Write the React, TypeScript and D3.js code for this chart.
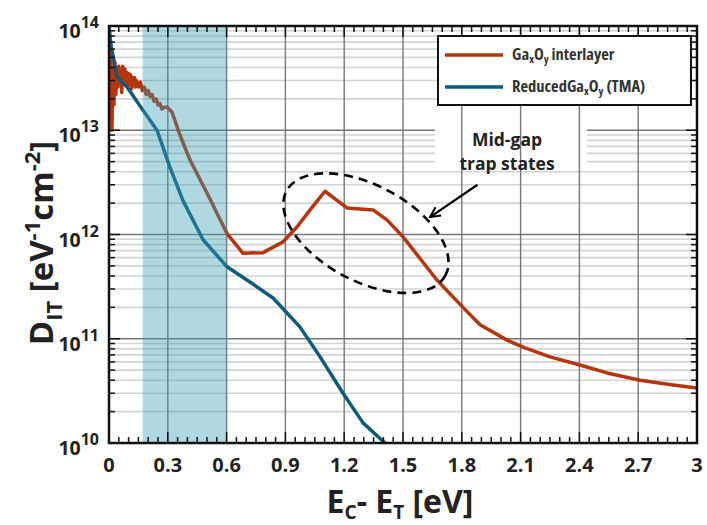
import React from 'react';
import * as d3 from 'd3';

// GaxOy interlayer
const redE = [0, 0.005, 0.01, 0.015, 0.02, 0.025, 0.03, 0.035, 0.04, 0.045, 0.05, 0.055, 0.06, 0.065, 0.07, 0.075, 0.08, 0.085, 0.09, 0.095, 0.1, 0.105, 0.11, 0.115, 0.12, 0.125, 0.13, 0.135, 0.14, 0.15, 0.16, 0.17, 0.18, 0.19, 0.2, 0.21, 0.22, 0.23, 0.24, 0.25, 0.26, 0.27, 0.28, 0.296, 0.321, 0.362, 0.413, 0.5, 0.551, 0.602, 0.684, 0.786, 0.888, 0.959, 1.03, 1.102, 1.214, 1.347, 1.418, 1.5, 1.673, 1.806, 1.893, 2.031, 2.112, 2.25, 2.403, 2.541, 2.709, 2.878, 3.0];
const redD = [7.3e13, 3.4e13, 5.3e13, 1.0e13, 3.8e13, 1.75e13, 4.5e13, 2.2e13, 4.0e13, 2.6e13, 4.1e13, 2.9e13, 3.8e13, 2.3e13, 4.1e13, 2.8e13, 3.9e13, 3.0e13, 3.6e13, 2.6e13, 3.5e13, 2.9e13, 3.4e13, 2.5e13, 3.2e13, 2.7e13, 3.2e13, 2.6e13, 3.0e13, 2.6e13, 2.9e13, 2.4e13, 2.6e13, 2.2e13, 2.4e13, 2.1e13, 2.2e13, 1.9e13, 2.0e13, 1.75e13, 1.8e13, 1.6e13, 1.65e13, 1.67e13, 1.5e13, 9e12, 5.2e12, 2.5e12, 1.6e12, 1.02e12, 6.6e11, 6.7e11, 8.5e11, 1.18e12, 1.76e12, 2.6e12, 1.8e12, 1.72e12, 1.38e12, 9.5e11, 3.66e11, 2.0e11, 1.36e11, 9.7e10, 8.3e10, 6.7e10, 5.6e10, 4.7e10, 4.0e10, 3.6e10, 3.37e10];

// Reduced GaxOy (TMA)
const blueE = [0, 0.01, 0.031, 0.041, 0.092, 0.173, 0.245, 0.311, 0.378, 0.48, 0.602, 0.704, 0.837, 0.974, 1.077, 1.194, 1.296, 1.408];
const blueD = [1e14, 6.6e13, 4.05e13, 3.25e13, 2.6e13, 1.56e13, 1e13, 4.4e12, 2.1e12, 8.9e11, 4.9e11, 3.66e11, 2.46e11, 1.3e11, 6.7e10, 3.0e10, 1.56e10, 1e10];

const xTicks = [0, 0.3, 0.6, 0.9, 1.2, 1.5, 1.8, 2.1, 2.4, 2.7, 3];
const xTickLabels = ['0', '0.3', '0.6', '0.9', '1.2', '1.5', '1.8', '2.1', '2.4', '2.7', '3'];
const yExponents = [10, 11, 12, 13, 14];
const shadeRange = [0.172, 0.6];

const RED = '#b5350f';
const BLUE = '#0e5a7c';
const FONT = "'Open Sans', sans-serif";

export default function App() {
  const W = 707, H = 525;
  const L = 109, R = 697, T = 26, B = 443;
  const x = d3.scaleLinear().domain([0, 3]).range([L, R]);
  const y = d3.scaleLog().domain([1e10, 1e14]).range([B, T]);

  const line = d3.line<[number, number]>().x(d => x(d[0])).y(d => y(d[1]));
  const redPath = line(redE.map((e, i) => [e, redD[i]]));
  const bluePath = line(blueE.map((e, i) => [e, blueD[i]]));

  const minorY: number[] = [];
  const majorY: number[] = [];
  yExponents.forEach(p => {
    majorY.push(Math.pow(10, p));
    if (p < 14) for (let k = 2; k <= 9; k++) minorY.push(k * Math.pow(10, p));
  });
  const minorX = d3.range(0, 61).map(i => i * 0.05).filter((v, i) => i % 6 !== 0);

  const ell = { cx: x(1.311), cy: y(1.03e12) };

  return (
    <svg width={W} height={H} style={{ position: 'absolute', left: 0, top: 0, fontFamily: FONT }}>
      <defs>
        <clipPath id="plot"><rect x={L} y={T} width={R - L} height={B - T} /></clipPath>
        <marker id="arr" viewBox="0 0 12 12" refX="11" refY="6" markerWidth="12" markerHeight="12" markerUnits="userSpaceOnUse" orient="auto">
          <path d="M1,1 L11,6 L1,11" fill="none" stroke="#000" strokeWidth="2" />
        </marker>
      </defs>
      <rect width={W} height={H} fill="#fff" />

      {/* horizontal grid */}
      {minorY.map((v, i) => (
        <line key={'hm' + i} x1={L} x2={R} y1={y(v)} y2={y(v)} stroke="#d4d4d4" strokeWidth={1.6} />
      ))}
      {majorY.map((v, i) => (
        <line key={'hM' + i} x1={L} x2={R} y1={y(v)} y2={y(v)} stroke="#777" strokeWidth={1.4} />
      ))}
      {/* box behind annotation text */}
      <rect x={435} y={127} width={152} height={40} fill="#fff" />
      {/* vertical grid */}
      {xTicks.map((v, i) => (
        <line key={'vM' + i} x1={x(v)} x2={x(v)} y1={T} y2={B} stroke="#777" strokeWidth={1.4} />
      ))}

      <g clipPath="url(#plot)">
        <path d={redPath || ''} fill="none" stroke={RED} strokeWidth={3.5} strokeLinejoin="round" />
        <path d={bluePath || ''} fill="none" stroke={BLUE} strokeWidth={3.5} strokeLinejoin="round" />
      </g>

      {/* shaded band */}
      <rect x={x(shadeRange[0])} y={T} width={x(shadeRange[1]) - x(shadeRange[0])} height={B - T}
        fill="rgb(58,158,178)" fillOpacity={0.4} />

      {/* ticks */}
      {minorX.map((v, i) => (
        <g key={'tx' + i} stroke="#111" strokeWidth={1.5}>
          <line x1={x(v)} x2={x(v)} y1={B} y2={B - 6} />
          <line x1={x(v)} x2={x(v)} y1={T} y2={T + 6} />
        </g>
      ))}
      {xTicks.map((v, i) => (
        <g key={'tX' + i} stroke="#111" strokeWidth={1.5}>
          <line x1={x(v)} x2={x(v)} y1={B} y2={B - 11} />
          <line x1={x(v)} x2={x(v)} y1={T} y2={T + 11} />
        </g>
      ))}
      {minorY.map((v, i) => (
        <g key={'ty' + i} stroke="#111" strokeWidth={1.5}>
          <line x1={L} x2={L + 6} y1={y(v)} y2={y(v)} />
          <line x1={R} x2={R - 6} y1={y(v)} y2={y(v)} />
        </g>
      ))}
      {majorY.map((v, i) => (
        <g key={'tY' + i} stroke="#111" strokeWidth={1.5}>
          <line x1={L} x2={L + 11} y1={y(v)} y2={y(v)} />
          <line x1={R} x2={R - 11} y1={y(v)} y2={y(v)} />
        </g>
      ))}

      <rect x={L} y={T} width={R - L} height={B - T} fill="none" stroke="#111" strokeWidth={2.5} />

      {/* tick labels */}
      {xTicks.map((v, i) => (
        <text key={'lx' + i} x={x(v)} y={472} textAnchor="middle" fontSize={20} fontWeight={700}
          fill="#222">{xTickLabels[i]}</text>
      ))}
      {yExponents.map(p => (
        <text key={'ly' + p} x={99} y={y(Math.pow(10, p)) + 12} textAnchor="end" fontWeight={700} fill="#222">
          <tspan fontSize={19.5}>10</tspan>
          <tspan fontSize={16} dy={-10}>{p}</tspan>
        </text>
      ))}

      {/* axis titles */}
      <text x={400} y={513} textAnchor="middle" fontWeight={700} fontSize={32} fill="#222">
        <tspan>E</tspan><tspan fontSize={19} dy={6}>C</tspan><tspan dy={-6}>- E</tspan>
        <tspan fontSize={19} dy={6}>T</tspan><tspan dy={-6}> [eV]</tspan>
      </text>
      <text transform="translate(53,243) rotate(-90)" textAnchor="middle" fontWeight={700} fontSize={33}
        fill="#222">
        <tspan>D</tspan><tspan fontSize={22} dy={9}>IT</tspan><tspan dy={-9}> [eV</tspan>
        <tspan fontSize={22} dy={-13}>-1</tspan><tspan dy={13}>cm</tspan>
        <tspan fontSize={22} dy={-13}>-2</tspan><tspan dy={13}>]</tspan>
      </text>

      {/* annotation */}
      <ellipse cx={ell.cx} cy={ell.cy} rx={90} ry={48} transform={`rotate(28 ${ell.cx} ${ell.cy})`}
        fill="none" stroke="#000" strokeWidth={2.6} strokeDasharray="9 6" />
      <line x1={x(1.88)} y1={y(3.0e12)} x2={x(1.638)} y2={y(1.47e12)} stroke="#000" strokeWidth={2.2} markerEnd="url(#arr)" />
      <text x={507} y={146} textAnchor="middle" fontSize={17.5} fontWeight={700} fill="#222">Mid-gap</text>
      <text x={507} y={170} textAnchor="middle" fontSize={17.5} fontWeight={700} fill="#222">trap states</text>

      {/* legend */}
      <rect x={438} y={36} width={253} height={69} fill="#fff" stroke="#111" strokeWidth={2} />
      <line x1={445} x2={503} y1={55} y2={55} stroke={RED} strokeWidth={3.5} />
      <line x1={445} x2={503} y1={87} y2={87} stroke={BLUE} strokeWidth={3.5} />
      <text x={512} y={60} fontSize={16.5} fontWeight={700} fill="#333" fontStretch="condensed">
        Ga<tspan fontSize={11} dy={3}>x</tspan><tspan dy={-3}>O</tspan><tspan fontSize={11} dy={3}>y</tspan>
        <tspan dy={-3}> interlayer</tspan>
      </text>
      <text x={512} y={92} fontSize={16.5} fontWeight={700} fill="#333" fontStretch="condensed">
        ReducedGa<tspan fontSize={11} dy={3}>x</tspan><tspan dy={-3}>O</tspan><tspan fontSize={11} dy={3}>y</tspan>
        <tspan dy={-3}> (TMA)</tspan>
      </text>
    </svg>
  );
}
